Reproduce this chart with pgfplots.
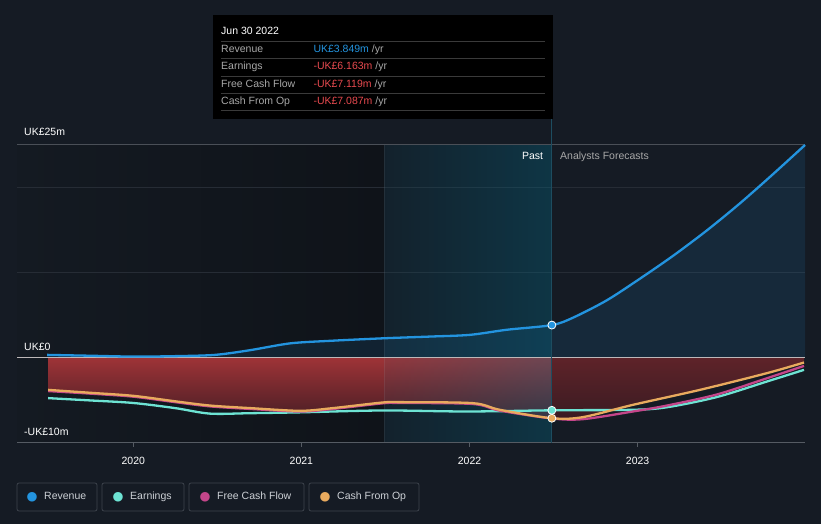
\documentclass[border=0pt]{standalone}
\usepackage{pgfplots}
\pgfplotsset{compat=1.18}
\usepackage{fontspec}
\setmainfont{Liberation Sans}
\newfontfamily\dejavu{DejaVu Sans}
\usetikzlibrary{fadings}
\definecolor{bg}{HTML}{151B24}
\definecolor{plotl}{HTML}{141A22}
\definecolor{plotr}{HTML}{0F1319}
\definecolor{rev}{HTML}{2394DF}
\definecolor{earn}{HTML}{6DE3D3}
\definecolor{fcf}{HTML}{C4468A}
\definecolor{cfo}{HTML}{E8AA5E}
\definecolor{negred}{HTML}{E84A4F}
\definecolor{gridc}{HTML}{262C35}
\definecolor{gridtop}{HTML}{4A4F57}
\definecolor{zeroc}{HTML}{BDB8B9}
\definecolor{axc}{HTML}{555B63}
\definecolor{bandc}{HTML}{007494}
\definecolor{vline}{HTML}{1D4D60}
\definecolor{legborder}{HTML}{3D434C}
\definecolor{legtext}{HTML}{CDD1D6}
\definecolor{ttlabel}{HTML}{A8A8A8}
\definecolor{ttsep}{HTML}{3A3A3A}
\definecolor{redtop}{HTML}{9E3337}
\definecolor{redbot}{HTML}{4A1E25}
\definecolor{fredtop}{HTML}{5E2329}
\definecolor{fredbot}{HTML}{3A1B22}
\tikzfading[name=fadeleft, left color=transparent!75, right color=transparent!0]

\pgfplotstableread{
x y
2019.487 0.35
2019.742 0.25
2020.000 0.15
2020.248 0.2
2020.486 0.35
2020.694 0.9
2020.932 1.7
2021.170 2.0
2021.491 2.3
2021.765 2.5
2022.002 2.7
2022.222 3.3
2022.490 3.85
2022.617 4.73
2022.816 6.75
2023.014 9.3
2023.212 12.0
2023.411 14.95
2023.609 18.15
2023.807 21.6
2023.996 25.0
}\revenue

\pgfplotstableread{
x y
2019.493 -4.73
2019.742 -5.0
2020.000 -5.3
2020.248 -5.9
2020.456 -6.55
2020.694 -6.5
2020.992 -6.4
2021.485 -6.18
2021.985 -6.3
2022.490 -6.16
2022.972 -6.1
2023.175 -5.8
2023.472 -4.6
2023.769 -2.78
2023.990 -1.41
}\earnings

\pgfplotstableread{
x y
2019.493 -3.9
2019.742 -4.2
2020.000 -4.56
2020.248 -5.2
2020.456 -5.7
2020.694 -6.0
2020.992 -6.3
2021.188 -6.0
2021.485 -5.34
2021.586 -5.3
2022.020 -5.42
2022.180 -6.2
2022.490 -7.12
2022.675 -7.2
2022.972 -6.3
2023.175 -5.6
2023.472 -4.3
2023.769 -2.4
2023.990 -0.95
}\fcf

\pgfplotstableread{
x y
2019.493 -3.76
2019.742 -4.1
2020.000 -4.46
2020.248 -5.1
2020.456 -5.6
2020.694 -5.9
2020.992 -6.22
2021.188 -5.9
2021.485 -5.24
2021.586 -5.2
2022.020 -5.32
2022.180 -6.1
2022.490 -7.09
2022.675 -6.96
2022.972 -5.52
2023.371 -3.76
2023.769 -1.8
2023.990 -0.55
}\cfo

\pgfplotstableread{
x y
2019.493 -3.76
2019.742 -4.1
2020.000 -4.46
2020.248 -5.1
2020.456 -5.6
2020.694 -5.9
2020.992 -6.22
2021.188 -5.9
2021.485 -5.24
2021.586 -5.2
2022.020 -5.32
2022.180 -6.1
2022.490 -7.09
}\cfopast

\pgfplotstableread{
x y
2022.490 -7.09
2022.675 -6.96
2022.972 -5.52
2023.371 -3.76
2023.769 -1.8
2023.990 -0.55
}\cfofut

\begin{document}
\begin{tikzpicture}[x=1pt,y=1pt]
\fill[bg] (0,0) rectangle (821,524);
\begin{axis}[at={(17pt,81pt)}, anchor=south west, scale only axis,
  width=788pt, height=298pt,
  xmin=2019.308, xmax=2023.996, ymin=-10, ymax=25,
  axis line style={draw=none}, clip=false,
  ytick=\empty, xtick={2020,2021,2022,2023},
  xticklabels={2020,2021,2022,2023},
  xtick pos=left,
  xtick align=outside, major tick length=4pt,
  tick style={draw=axc, line width=0.8pt},
  x tick label style={font=\fontsize{10.5}{12}\selectfont, text=white, anchor=base, yshift=-17.5pt},
]
% plot area backgrounds
\fill[left color=plotl, right color=plotr] (axis cs:2019.308,-10) rectangle (axis cs:2021.491,25);
% grid
\draw[gridc, line width=1pt] (axis cs:2019.308,20) -- (axis cs:2023.996,20);
\draw[gridc, line width=1pt] (axis cs:2019.308,10) -- (axis cs:2023.996,10);
% revenue fill
\addplot[draw=none, fill=rev, fill opacity=0.12, smooth, tension=0.5] table {\revenue} \closedcycle;
% red fills
\addplot[draw=none, top color=redtop, bottom color=redbot, smooth, tension=0.5] table {\cfopast} \closedcycle;
\addplot[draw=none, top color=fredtop, bottom color=fredbot, smooth, tension=0.5] table {\cfofut} \closedcycle;
% past band
\fill[bandc, path fading=fadeleft, fill opacity=0.3] (axis cs:2021.491,-10) rectangle (axis cs:2022.490,25);
\draw[white, opacity=0.07, line width=0.6pt] (axis cs:2021.491,-10) -- (axis cs:2021.491,25);
% top gridline, zero line, axis line
\draw[gridtop, line width=1pt] (axis cs:2019.308,25) -- (axis cs:2023.996,25);
\draw[zeroc, line width=1pt] (axis cs:2019.308,0) -- (axis cs:2023.996,0);
\draw[axc, line width=1pt] (axis cs:2019.308,-10) -- (axis cs:2023.996,-10);
\draw[vline, line width=0.8pt] (axis cs:2022.490,-10) -- (axis cs:2022.490,28.3);
% series
\addplot[earn, line width=2.3pt, smooth, tension=0.5] table {\earnings};
\addplot[fcf, line width=2.3pt, smooth, tension=0.5] table {\fcf};
\addplot[cfo, line width=2.3pt, smooth, tension=0.5] table {\cfo};
\addplot[rev, line width=2.3pt, smooth, tension=0.5] table {\revenue};
% markers
\addplot[only marks, mark=*, mark size=4pt, mark options={fill=rev, draw=white, line width=0.8pt}] coordinates {(2022.490,3.85)};
\addplot[only marks, mark=*, mark size=4pt, mark options={fill=earn, draw=white, line width=0.8pt}] coordinates {(2022.490,-6.16)};
\addplot[only marks, mark=*, mark size=4pt, mark options={fill=cfo, draw=white, line width=0.8pt}] coordinates {(2022.490,-7.09)};
\end{axis}
% axis texts
\begin{scope}[every node/.style={inner sep=0pt, font=\fontsize{10.5}{12}\selectfont}]
\node[anchor=base west, text=white] at (24,388) {UK£25m};
\node[anchor=base west, text=white] at (24,173.5) {UK£0};
\node[anchor=base west, text=white] at (24,88.5) {-UK£10m};
\node[anchor=base east, text=white] at (543.3,364.2) {Past};
\node[anchor=base west, text=ttlabel] at (560,364.2) {Analysts Forecasts};
% tooltip
\fill[black] (213,509) rectangle (553,405);
\foreach \yy in {482.3,465.7,448,430.7,413.3} {\draw[ttsep, line width=0.8pt] (221,\yy) -- (545,\yy);}
\node[anchor=base west, text=white] at (221,489) {Jun 30 2022};
\node[anchor=base west, text=ttlabel] at (221,471) {Revenue};
\node[anchor=base west, text=ttlabel] at (221,454.2) {Earnings};
\node[anchor=base west, text=ttlabel] at (221,436.2) {Free Cash Flow};
\node[anchor=base west, text=ttlabel] at (221,419.5) {Cash From Op};
\node[anchor=base west] at (313.3,471) {\textcolor{rev}{UK£3.849m}\textcolor{ttlabel}{\ /yr}};
\node[anchor=base west] at (313.3,454.2) {\textcolor{negred}{-UK£6.163m}\textcolor{ttlabel}{\ /yr}};
\node[anchor=base west] at (313.3,436.2) {\textcolor{negred}{-UK£7.119m}\textcolor{ttlabel}{\ /yr}};
\node[anchor=base west] at (313.3,419.5) {\textcolor{negred}{-UK£7.087m}\textcolor{ttlabel}{\ /yr}};
% legend
\draw[legborder, line width=0.8pt, rounded corners=2pt] (17,13) rectangle (97,41);
\draw[legborder, line width=0.8pt, rounded corners=2pt] (102,13) rectangle (184,41);
\draw[legborder, line width=0.8pt, rounded corners=2pt] (189,13) rectangle (304,41);
\draw[legborder, line width=0.8pt, rounded corners=2pt] (309,13) rectangle (419,41);
\node[text=rev, font=\dejavu\fontsize{12.5}{13}\selectfont] at (32,27) {●};
\node[text=earn, font=\dejavu\fontsize{12.5}{13}\selectfont] at (118,27) {●};
\node[text=fcf, font=\dejavu\fontsize{12.5}{13}\selectfont] at (205,27) {●};
\node[text=cfo, font=\dejavu\fontsize{12.5}{13}\selectfont] at (325,27) {●};
\node[anchor=base west, text=legtext] at (44,24) {Revenue};
\node[anchor=base west, text=legtext] at (130,24) {Earnings};
\node[anchor=base west, text=legtext] at (217,24) {Free Cash Flow};
\node[anchor=base west, text=legtext] at (337,24) {Cash From Op};
\end{scope}
\end{tikzpicture}
\end{document}
